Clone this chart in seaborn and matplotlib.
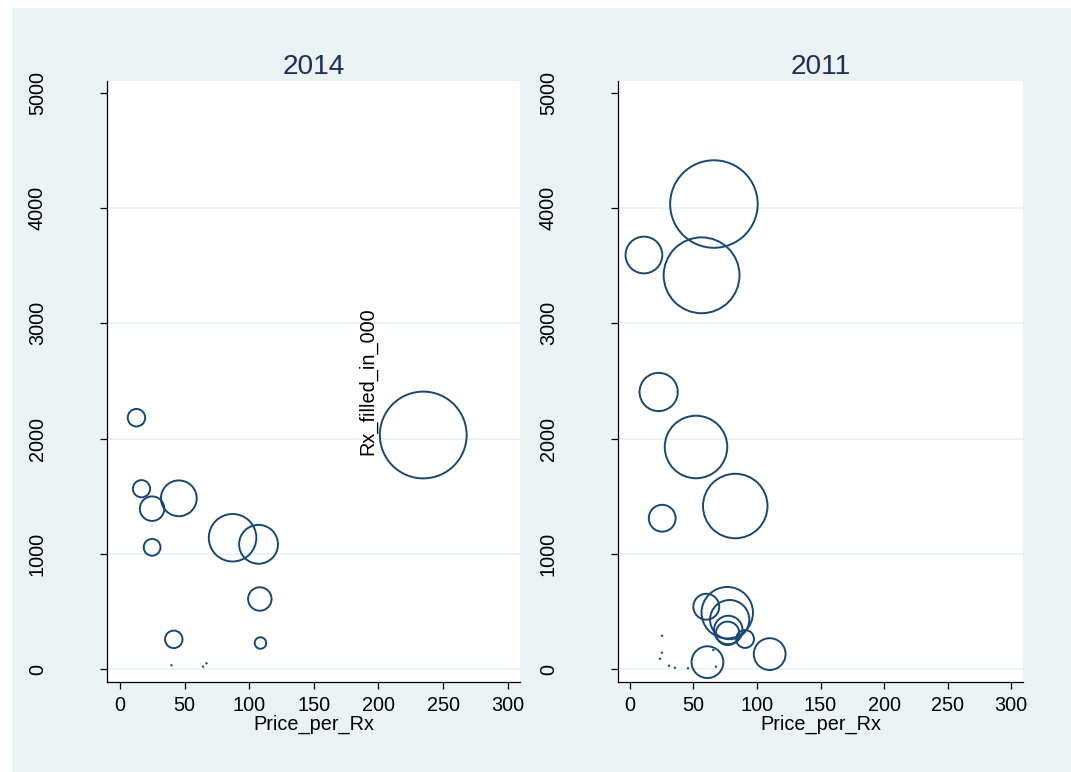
import matplotlib
matplotlib.use("Agg")
import matplotlib.pyplot as plt
from matplotlib.patches import Rectangle
import seaborn as sns
import pandas as pd

# ---------------- data ----------------
panel_titles = ["2014", "2011"]

price_2014 = [12.7, 16.6, 24.8, 45.5, 24.8, 87.1, 107.2, 108.2, 41.6, 108.7, 234.7,
              39.8, 64.3, 66.9]
rx_2014 = [2182, 1566, 1393, 1483, 1058, 1141, 1084, 610, 260, 228, 2032,
           35, 23, 52]
weight_2014 = [3.06, 2.96, 6.0, 12.8, 2.82, 22.6, 15.1, 5.5, 3.06, 1.32, 75.3,
               0.02, 0.02, 0.02]

price_2011 = [66.1, 56.4, 11.0, 22.6, 52.0, 82.9, 25.4, 60.1, 76.6, 78.5, 77.4, 76.9,
              90.6, 110.0, 61.0,
              25.2, 25.2, 23.6, 30.7, 35.4, 45.7, 65.6, 67.7]
rx_2011 = [4035, 3417, 3593, 2405, 1928, 1416, 1310, 543, 491, 431, 341, 312,
           263, 132, 62,
           291, 144, 92, 31, 14, 9, 167, 23]
weight_2011 = [76.6, 57.5, 13.5, 14.6, 39.1, 41.6, 7.2, 6.7, 26.5, 15.4, 8.1, 5.5,
               3.2, 10.1, 10.1,
               0.02, 0.02, 0.02, 0.02, 0.02, 0.02, 0.02, 0.02]

x_ticks = [0, 50, 100, 150, 200, 250, 300]
y_ticks = [0, 1000, 2000, 3000, 4000, 5000]
x_title = "Price_per_Rx"
y_title = "Rx_filled_in_000"

# ---------------- style ----------------
BG = "#EAF2F3"
NAVY = "#1A476F"
TITLE_C = "#1E2D58"
W, H = 1071, 772
FS = 14.3

sns.set_theme(style="white")
plt.rcParams['font.family'] = ['Liberation Sans', 'DejaVu Sans']

fig = plt.figure(figsize=(W / 100, H / 100), dpi=100, facecolor="white")
fig.add_artist(Rectangle((12 / W, 0), 1 - 12 / W, 1 - 8 / H, transform=fig.transFigure,
                         facecolor=BG, edgecolor="none", zorder=-10))

ax1 = fig.add_axes([107 / W, 90 / H, 413 / W, 601 / H])
ax2 = fig.add_axes([618 / W, 90 / H, 405 / W, 601 / H])

frames = [
    pd.DataFrame({x_title: price_2014, y_title: rx_2014, "weight": weight_2014}),
    pd.DataFrame({x_title: price_2011, y_title: rx_2011, "weight": weight_2011}),
]
xlims = [(-10.1, 309.6), (-9.4, 309.4)]

for ax, df, title, xl in zip([ax1, ax2], frames, panel_titles, xlims):
    ax.set_facecolor("white")
    sns.scatterplot(data=df, x=x_title, y=y_title, size="weight",
                    sizes=(0, 5184), size_norm=(0, 100), legend=False, ax=ax,
                    color=NAVY, facecolor="none", edgecolor=NAVY, linewidth=1.4,
                    zorder=3)
    lws = [1.4 if w > 0.1 else 0.7 for w in df["weight"]]
    for coll in ax.collections:
        coll.set_facecolor("none")
        coll.set_edgecolor(NAVY)
        coll.set_linewidths(lws)
        coll.set_clip_on(False)

    ax.set_xlim(*xl)
    ax.set_ylim(-110, 5102)
    ax.set_xticks(x_ticks)
    ax.set_yticks(y_ticks)
    ax.set_xticklabels([str(v) for v in x_ticks])
    ax.set_yticklabels([str(v) for v in y_ticks])

    for s in ["top", "right"]:
        ax.spines[s].set_visible(False)
    for s in ["left", "bottom"]:
        ax.spines[s].set_color("black")
        ax.spines[s].set_linewidth(0.9)

    ax.tick_params(axis="x", direction="out", length=5.3, width=0.9, pad=4.5,
                   labelsize=FS, colors="black", bottom=True)
    ax.tick_params(axis="y", direction="out", length=5.3, width=0.9, pad=38,
                   labelsize=FS, colors="black", labelrotation=90, left=True)
    for lbl in ax.get_yticklabels():
        lbl.set_va("center")

    ax.set_axisbelow(True)
    ax.yaxis.grid(True, color=BG, linewidth=1.3)
    ax.xaxis.grid(False)
    for t, v in zip(ax.yaxis.get_major_ticks(), y_ticks):
        if v == 5000:
            t.gridline.set_visible(False)

    ax.set_title(title, fontsize=20.2, color=TITLE_C, pad=5)
    ax.set_xlabel(x_title, fontsize=FS, color="black", labelpad=0.3)
    ax.set_ylabel("")

ax2.set_ylabel(y_title, fontsize=FS, color="black")
ax2.yaxis.set_label_coords((368 - 618) / 405, 0.5)
ax2.yaxis.label.set_va("center")

fig.savefig("out.png", dpi=100, facecolor="white")
